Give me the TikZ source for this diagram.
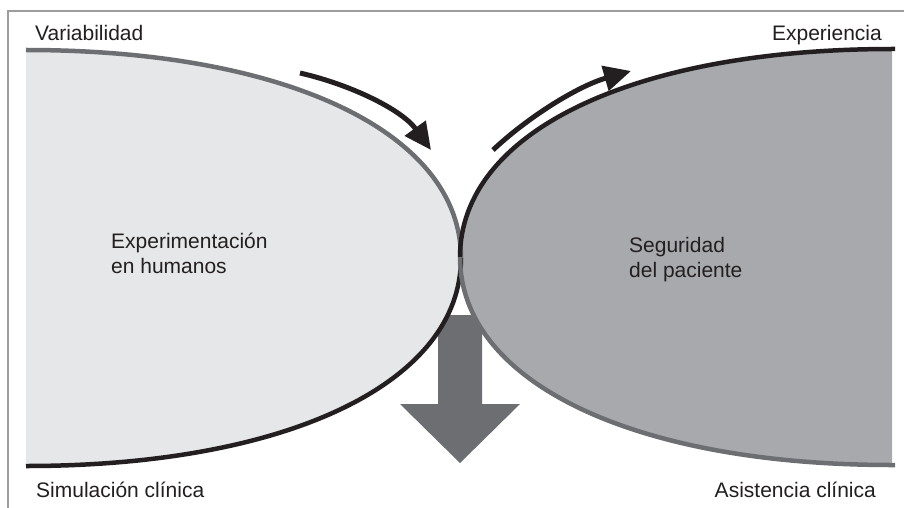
\documentclass[tikz,border=0pt]{standalone}
\usepackage{fontspec}
\setmainfont{Liberation Sans}
\usetikzlibrary{arrows.meta}
\definecolor{paleshape}{HTML}{E6E7E8}
\definecolor{darkshape}{HTML}{A7A9AC}
\definecolor{midgray}{HTML}{6D6E71}
\definecolor{inkblack}{HTML}{231F20}
\definecolor{framegray}{HTML}{9D9D9D}

\begin{document}
\begin{tikzpicture}[x=1pt,y=-1pt,
  labeltext/.style={font=\fontsize{21}{25}\selectfont, text=inkblack, inner sep=0pt, align=left},
  edgegray/.style={draw=midgray, line width=4.5pt},
  edgeblack/.style={draw=inkblack, line width=4.5pt},
  flowarrow/.style={draw=inkblack, line width=5pt, -{Triangle[length=27pt,width=25pt]}},
  downarrow/.style={fill=midgray, draw=none},
]
\useasboundingbox (0,0) rectangle (904,508);
\fill[white] (0,0) rectangle (904,508);

% open frame: top and left rules
\draw[framegray, line width=2pt] (8,508) -- (8,11) -- (904,11);

% key points of the two lobes
\coordinate (Ltop) at (26,50);
\coordinate (Lbot) at (26,466);
\coordinate (Lmid) at (461,258);
\coordinate (Rtop) at (892,49);
\coordinate (Rbot) at (892,465);
\coordinate (Rmid) at (460,257);

% broad downward arrow between the lobes
\fill[downarrow] (438,315) -- (482,315) -- (482,404) -- (520,404)
  -- (460,463) -- (400,404) -- (438,404) -- cycle;

% lobe fills
\fill[paleshape] (Ltop) .. controls (287,50) and (461,133) .. (Lmid)
  .. controls (461,383) and (287,466) .. (Lbot) -- cycle;
\fill[darkshape] (Rtop) .. controls (633,49) and (460,132) .. (Rmid)
  .. controls (460,382) and (633,465) .. (Rbot) -- cycle;

% lobe outlines
\path[edgegray] (Ltop) .. controls (287,50) and (461,133) .. (Lmid);
\path[edgeblack] (Lmid) .. controls (461,383) and (287,466) .. (Lbot);
\path[edgeblack] (895,49) -- (Rtop) .. controls (633,49) and (460,132) .. (Rmid);
\path[edgegray] (Rmid) .. controls (460,382) and (633,465) .. (Rbot) -- (895,465);

% curved flow arrows
\coordinate (a1s) at (300,73);
\coordinate (a1e) at (431,150);
\coordinate (a2s) at (493,150);
\coordinate (a2e) at (631,71);
\draw[flowarrow] (a1s) .. controls (352,85) and (402,110) .. (a1e);
\draw[flowarrow] (a2s) .. controls (528,117) and (578,86) .. (a2e);

% labels
\node[labeltext, anchor=base west] (var) at (35,41) {Variabilidad};
\node[labeltext, anchor=base east] (exp) at (882,41) {Experiencia};
\node[labeltext, anchor=base west] (sim) at (36,497) {Simulación clínica};
\node[labeltext, anchor=base east] (asi) at (876,497) {Asistencia clínica};
\node[labeltext, anchor=base west] (hum) at (111,273) {Experimentación\\en humanos};
\node[labeltext, anchor=base west] (seg) at (629,277) {Seguridad\\del paciente};
\end{tikzpicture}
\end{document}
